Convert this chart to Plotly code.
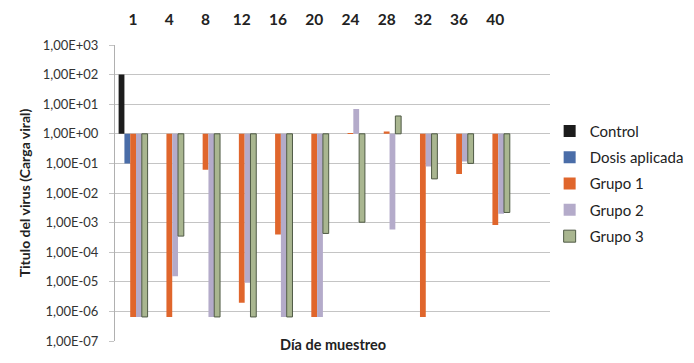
import plotly.graph_objects as go

days = ["1", "4", "8", "12", "16", "20", "24", "28", "32", "36", "40", " "]
control = [100, None, None, None, None, None, None, None, None, None, None, None]
dosis = [0.1, None, None, None, None, None, None, None, None, None, None, None]
grupo1 = [6.5e-7, 6.5e-7, 6.1e-2, 1.95e-6, 4.0e-4, 6.5e-7, 1.05, 1.2, 6.5e-7, 4.4e-2, 8.3e-4, None]
grupo2 = [6.5e-7, 1.55e-5, 6.5e-7, 9.3e-6, 6.5e-7, 6.5e-7, 6.9, 5.8e-4, 7.9e-2, 0.117, 2.0e-3, None]
grupo3 = [6.5e-7, 3.5e-4, 6.5e-7, 6.5e-7, 6.5e-7, 4.3e-4, 1.03e-3, 4.0, 3.0e-2, 0.1, 2.2e-3, None]

ytickvals = [1e3, 1e2, 1e1, 1e0, 1e-1, 1e-2, 1e-3, 1e-4, 1e-5, 1e-6, 1e-7]
yticktext = ["1,00E+03", "1,00E+02", "1,00E+01", "1,00E+00", "1,00E-01", "1,00E-02",
             "1,00E-03", "1,00E-04", "1,00E-05", "1,00E-06", "1,00E-07"]

series = [
    ("Control", control, "#1c1c1c", "#1c1c1c", 0),
    ("Dosis aplicada", dosis, "#4a6da8", "#4a6da8", 0),
    ("Grupo 1", grupo1, "#e0662c", "#e0662c", 0),
    ("Grupo 2", grupo2, "#b4abca", "#b4abca", 0),
    ("Grupo 3", grupo3, "#a9b690", "#4f5a45", 1),
]

BASE = 1.0
fig = go.Figure()
for name, vals, fill, line, lw in series:
    fig.add_trace(go.Bar(
        name=name,
        x=days,
        y=[None if v is None else v - BASE for v in vals],
        base=BASE,
        marker=dict(color=fill, line=dict(color=line, width=lw)),
        legendgroup=name,
        hoverinfo="skip",
    ))

font_family = "Lato, Carlito, 'Liberation Sans', sans-serif"

fig.update_layout(
    width=694, height=363,
    margin=dict(l=115, r=141, t=45, b=22),
    paper_bgcolor="white", plot_bgcolor="white",
    barmode="group", bargap=0.2, bargroupgap=0,
    font=dict(family=font_family, color="#333333"),
    showlegend=True,
    legend=dict(xref="container", yref="container",
                x=0.792, xanchor="left", y=0.684, yanchor="top",
                font=dict(size=15, color="#222222"), tracegroupgap=3.8,
                itemwidth=30, bgcolor="rgba(0,0,0,0)"),
    xaxis=dict(
        type="category", side="top", range=[-0.5, 11.5],
        showgrid=False, showline=False, ticks="", zeroline=False,
        tickfont=dict(size=15.5, color="#222222", family=font_family, weight="bold"),
        ticklabelstandoff=16, automargin=False,
    ),
    yaxis=dict(
        type="log", range=[-7, 3],
        tickvals=ytickvals, ticktext=yticktext,
        tickfont=dict(size=13, color="#333333"),
        showgrid=True, gridcolor="#c4c4c4", gridwidth=1,
        showline=True, linecolor="#b0b0b0", linewidth=1,
        ticks="outside", ticklen=5, tickcolor="#c4c4c4",
        ticklabelstandoff=8,
        zeroline=False, automargin=False,
        title=dict(text="Titulo del virus (Carga viral)",
                   font=dict(size=14, color="#222222", weight="bold"), standoff=8),
    ),
)

fig.add_annotation(text="Día de muestreo", xref="paper", yref="paper",
                   x=0.502, y=0, yshift=-14, showarrow=False,
                   font=dict(size=14.5, color="#222222", weight="bold"))

fig.write_html("out.html", post_script="document.body.style.margin='0';",
               config={"displayModeBar": False})
